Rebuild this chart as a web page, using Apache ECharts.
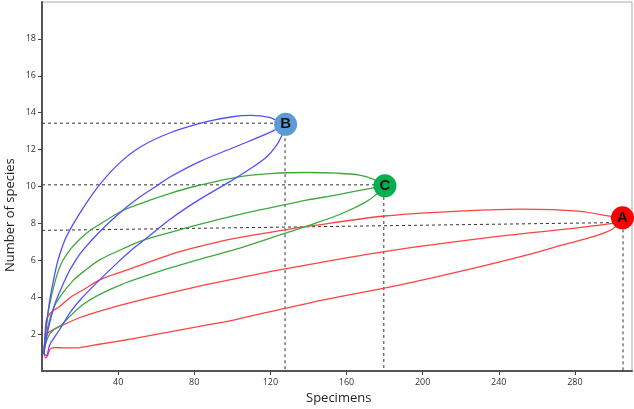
<!DOCTYPE html>
<html>
<head>
<meta charset="utf-8">
<script src="https://cdn.jsdelivr.net/npm/echarts@6/dist/echarts.min.js"></script>
<style>
  html, body { margin: 0; padding: 0; background: #fff; }
  #chart { width: 634px; height: 409px; }
</style>
</head>
<body>
<div id="chart"></div>
<script>
// tick labels
const xTicks = [40, 80, 120, 160, 200, 240, 280]
const yTicks = [2, 4, 6, 8, 10, 12, 14, 16, 18]

// accumulation curves [specimens, species] - upper / mean / lower bound
const bUpper = [[1, 0.9], [2, 2.2], [4, 3.8], [6, 4.9], [8.4, 6.0], [12, 7.1], [16.3, 7.95], [22, 8.9], [30.3, 10.1], [40, 11.2], [51, 12.1], [67, 12.9], [86, 13.5], [100, 13.78], [110, 13.85], [119.5, 13.75], [124, 13.55], [128, 13.4]]
const bMean = [[1, 0.9], [2, 1.6], [4, 2.6], [7, 3.7], [10, 4.45], [14, 5.35], [18, 6.05], [21.5, 6.55], [30.3, 7.55], [40, 8.5], [49.6, 9.3], [60.7, 10.07], [67, 10.5], [82.8, 11.35], [104, 12.25], [120, 12.95], [128, 13.37]]
const bLower = [[1, 0.9], [2.4, 0.85], [4, 1.4], [7, 1.9], [10.2, 2.4], [15, 3.2], [20, 3.85], [30.3, 4.94], [40, 5.9], [47, 6.56], [54.8, 7.19], [67, 8.2], [82.8, 9.3], [98.5, 10.25], [110, 11.0], [118, 11.6], [123, 12.2], [126, 12.75], [128, 13.35]]

const cUpper = [[1, 1], [2, 2.2], [4, 3.6], [7, 4.9], [10, 5.8], [15, 6.6], [20, 7.15], [25, 7.6], [30.3, 7.95], [42.5, 8.7], [56.7, 9.26], [67, 9.62], [80, 10.0], [102, 10.5], [120, 10.7], [140, 10.76], [155, 10.72], [166.8, 10.62], [174, 10.4], [180, 10.05]]
const cMean = [[1, 1], [2, 1.7], [3.1, 2.4], [6, 3.4], [10, 4.1], [16.3, 4.9], [22, 5.4], [30.3, 6.02], [42, 6.6], [52.2, 7.05], [67, 7.5], [82.8, 7.95], [100, 8.4], [127, 9.0], [139, 9.26], [155, 9.55], [172, 9.89], [180, 10.05]]
const cLower = [[1, 1], [2, 1.5], [4, 2.0], [7, 2.3], [10.2, 2.5], [15, 3.0], [21.5, 3.6], [30.3, 4.15], [42, 4.7], [53, 5.1], [67, 5.57], [82.8, 6.05], [102, 6.6], [127.6, 7.46], [142.3, 7.96], [158, 8.55], [170, 9.15], [176, 9.6], [180, 10.05]]

const aUpper = [[1, 1], [1.5, 1.8], [2.3, 2.77], [5, 3.2], [9.3, 3.5], [15, 4.0], [21.5, 4.39], [30.3, 4.94], [42.5, 5.4], [67, 6.3], [82.8, 6.75], [102, 7.2], [127.6, 7.65], [140.5, 7.85], [179.8, 8.4], [212, 8.63], [252, 8.77], [282, 8.66], [300, 8.36], [305, 8.3]]
const aMean = [[1, 1], [1.5, 1.5], [3.1, 2.05], [9.3, 2.41], [20, 2.9], [30.3, 3.25], [50, 3.8], [82.8, 4.6], [98.5, 4.94], [127.6, 5.53], [179.8, 6.47], [238.5, 7.28], [299.8, 8.0], [305, 8.3]]
const aLower = [[1, 1], [2, 0.7], [3, 0.85], [4.4, 1.2], [7, 1.27], [12, 1.25], [20, 1.27], [30, 1.45], [46, 1.72], [60, 1.98], [82.8, 2.42], [100, 2.75], [127.6, 3.4], [150, 3.9], [179.8, 4.49], [205, 5.05], [229.8, 5.65], [255, 6.3], [273.5, 6.83], [290, 7.3], [299.8, 7.7], [305, 8.3]]

// end points of each sample and the guide lines to the axes
const endNames = ['A', 'B', 'C']
const endPoints = [[305, 8.3], [128, 13.37], [180.2, 10.04]]
const guideA = [[0, 7.62], [305.3, 8.05], [305.3, 0]]
const guideB = [[0, 13.43], [127.7, 13.43], [127.7, 0]]
const guideC = [[0, 10.09], [179.6, 10.09], [179.6, 0]]

const chart = echarts.init(document.getElementById('chart'))

function curve(data, color) {
  return {
    type: 'line',
    data: data,
    smooth: 0.3,
    showSymbol: false,
    lineStyle: { color: color, width: 1.3 },
    z: 2
  }
}
function guide(data) {
  return {
    type: 'line',
    data: data,
    showSymbol: false,
    lineStyle: { color: '#333', width: 1, type: [3, 3] },
    z: 1
  }
}

const blue = '#5050ff'
const green = '#3ea83e'
const red = '#ff4343'
const fills = ['#ff0000', '#5b9bd5', '#00b050']

const option = {
  animation: false,
  grid: {
    left: 42, right: 2, top: 2, bottom: 38,
    show: true, borderColor: '#aaa', borderWidth: 1
  },
  xAxis: {
    type: 'value',
    min: 0, max: 310, interval: 40,
    splitLine: { show: false },
    axisLine: { lineStyle: { color: '#555', width: 2 } },
    axisTick: { length: 4, lineStyle: { color: '#444' }, customValues: xTicks },
    axisLabel: { color: '#333', fontSize: 9, fontFamily: 'Open Sans', margin: 7, customValues: xTicks }
  },
  yAxis: {
    type: 'value',
    min: 0, max: 20, interval: 2,
    splitLine: { show: false },
    axisLine: { lineStyle: { color: '#555', width: 2 } },
    axisTick: { length: 4, lineStyle: { color: '#444' }, customValues: yTicks },
    axisLabel: { color: '#333', fontSize: 9, fontFamily: 'Open Sans', margin: 6, customValues: yTicks }
  },
  graphic: [
    {
      type: 'text', left: 306, top: 392,
      style: { text: 'Specimens', font: '13px "Open Sans"', fill: '#222' }
    },
    {
      type: 'text', x: 4, y: 272, rotation: Math.PI / 2,
      style: { text: 'Number of species', font: '13px "Open Sans"', fill: '#222' }
    }
  ],
  series: [
    guide(guideA), guide(guideB), guide(guideC),
    curve(aUpper, red), curve(aMean, red), curve(aLower, red),
    curve(cUpper, green), curve(cMean, green), curve(cLower, green),
    curve(bUpper, blue), curve(bMean, blue), curve(bLower, blue),
    {
      type: 'scatter',
      symbolSize: 23,
      z: 5,
      itemStyle: { opacity: 1 },
      data: endPoints.map((p, i) => ({
        value: p,
        name: endNames[i],
        itemStyle: { color: fills[i], opacity: 1 }
      })),
      label: {
        show: true,
        position: 'inside',
        formatter: '{b}',
        color: '#111',
        fontSize: 15,
        fontWeight: 'bold',
        fontFamily: 'Liberation Sans'
      }
    }
  ]
}
chart.setOption(option)
</script>
</body>
</html>
